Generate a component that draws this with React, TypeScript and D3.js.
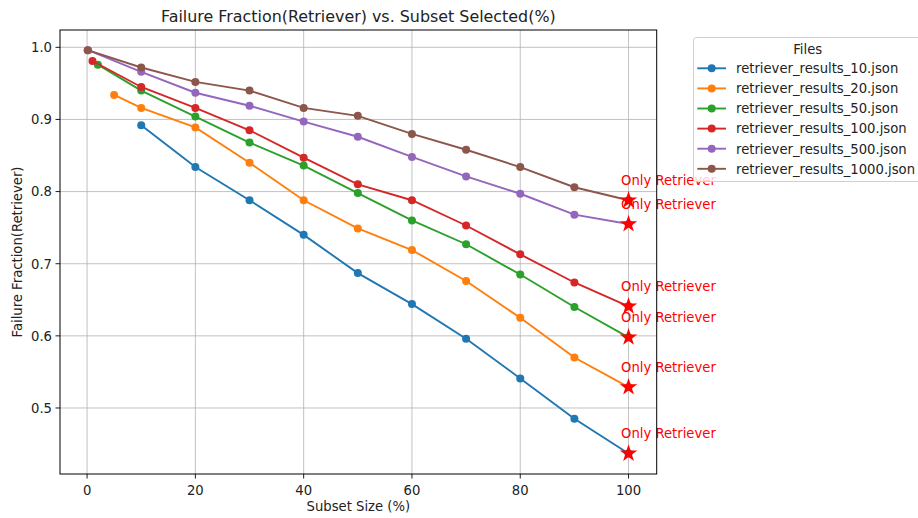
import React from "react";
import * as d3 from "d3";

const seriesNames = [
  "retriever_results_10.json",
  "retriever_results_20.json",
  "retriever_results_50.json",
  "retriever_results_100.json",
  "retriever_results_500.json",
  "retriever_results_1000.json",
];
const colors = ["#1f77b4", "#ff7f0e", "#2ca02c", "#d62728", "#9467bd", "#8c564b"];

const x10 = [10, 20, 30, 40, 50, 60, 70, 80, 90, 100];
const y10 = [0.892, 0.834, 0.788, 0.740, 0.687, 0.644, 0.596, 0.541, 0.485, 0.437];
const x20 = [5, 10, 20, 30, 40, 50, 60, 70, 80, 90, 100];
const y20 = [0.934, 0.916, 0.889, 0.840, 0.788, 0.749, 0.719, 0.676, 0.625, 0.570, 0.529];
const x50 = [2, 10, 20, 30, 40, 50, 60, 70, 80, 90, 100];
const y50 = [0.976, 0.940, 0.904, 0.868, 0.836, 0.798, 0.760, 0.727, 0.685, 0.640, 0.598];
const x100 = [1, 10, 20, 30, 40, 50, 60, 70, 80, 90, 100];
const y100 = [0.981, 0.945, 0.916, 0.885, 0.847, 0.810, 0.788, 0.753, 0.713, 0.674, 0.641];
const x500 = [0.2, 10, 20, 30, 40, 50, 60, 70, 80, 90, 100];
const y500 = [0.996, 0.966, 0.937, 0.919, 0.897, 0.876, 0.848, 0.821, 0.797, 0.768, 0.755];
const x1000 = [0.1, 10, 20, 30, 40, 50, 60, 70, 80, 90, 100];
const y1000 = [0.996, 0.972, 0.952, 0.940, 0.916, 0.905, 0.880, 0.858, 0.834, 0.806, 0.788];

const xTicks = [0, 20, 40, 60, 80, 100];
const yTicks = [0.5, 0.6, 0.7, 0.8, 0.9, 1.0];

const allX = [x10, x20, x50, x100, x500, x1000];
const allY = [y10, y20, y50, y100, y500, y1000];

const W = 918;
const H = 518;
const left = 60;
const right = 656.7;
const top = 30;
const bottom = 474;
const FONT = "DejaVu Sans, sans-serif";
const FS = 13.2;

export default function App() {
  const xs = d3.scaleLinear().domain([-5, 105.2]).range([left, right]);
  const ys = d3.scaleLinear().domain([0.4085, 1.024]).range([bottom, top]);
  const line = d3
    .line<[number, number]>()
    .x((d) => xs(d[0]))
    .y((d) => ys(d[1]));
  const star = d3.symbol().type(d3.symbolStar).size(95)();

  return (
    <svg
      width={W}
      height={H}
      style={{ position: "absolute", left: 0, top: 0, background: "#fff" }}
      fontFamily={FONT}
    >
      <rect x={0} y={0} width={W} height={H} fill="#fff" />
      {/* grid */}
      {xTicks.map((t) => (
        <line key={"gx" + t} x1={xs(t)} x2={xs(t)} y1={top} y2={bottom} stroke="#b0b0b0" strokeWidth={0.9} opacity={0.85} />
      ))}
      {yTicks.map((t) => (
        <line key={"gy" + t} x1={left} x2={right} y1={ys(t)} y2={ys(t)} stroke="#b0b0b0" strokeWidth={0.9} opacity={0.85} />
      ))}
      {/* series */}
      {allX.map((xv, i) => {
        const pts: [number, number][] = xv.map((x, j) => [x, allY[i][j]]);
        return (
          <g key={"s" + i}>
            <path d={line(pts) || ""} fill="none" stroke={colors[i]} strokeWidth={1.9} />
            {pts.map((p, j) => (
              <circle key={j} cx={xs(p[0])} cy={ys(p[1])} r={4} fill={colors[i]} />
            ))}
          </g>
        );
      })}
      {/* stars + annotations */}
      {allX.map((xv, i) => {
        const lx = xv[xv.length - 1];
        const ly = allY[i][allY[i].length - 1];
        return (
          <g key={"a" + i}>
            <path d={star || ""} transform={`translate(${xs(lx)},${ys(ly)})`} fill="red" />
            <text x={xs(lx) - 7.5} y={ys(ly) - 15} fontSize={FS} fill="red">
              Only Retriever
            </text>
          </g>
        );
      })}
      {/* axes spines */}
      <rect x={left} y={top} width={right - left} height={bottom - top} fill="none" stroke="#000" strokeWidth={1} />
      {/* x ticks */}
      {xTicks.map((t) => (
        <g key={"xt" + t}>
          <line x1={xs(t)} x2={xs(t)} y1={bottom} y2={bottom + 4.5} stroke="#000" strokeWidth={0.9} />
          <text x={xs(t)} y={bottom + 21} textAnchor="middle" fontSize={FS} fill="#222">
            {t}
          </text>
        </g>
      ))}
      {/* y ticks */}
      {yTicks.map((t) => (
        <g key={"yt" + t}>
          <line x1={left - 4.5} x2={left} y1={ys(t)} y2={ys(t)} stroke="#000" strokeWidth={0.9} />
          <text x={left - 8} y={ys(t) + 4.8} textAnchor="end" fontSize={FS} fill="#222">
            {t.toFixed(1)}
          </text>
        </g>
      ))}
      {/* labels */}
      <text x={(left + right) / 2} y={511} textAnchor="middle" fontSize={FS} fill="#222">
        Subset Size (%)
      </text>
      <text
        transform={`translate(22,${(top + bottom) / 2}) rotate(-90)`}
        textAnchor="middle"
        fontSize={FS}
        fill="#222"
      >
        Failure Fraction(Retriever)
      </text>
      <text x={(left + right) / 2} y={21.7} textAnchor="middle" fontSize={15.9} fill="#222">
        Failure Fraction(Retriever) vs. Subset Selected(%)
      </text>
      {/* legend */}
      <rect x={693.5} y={37.5} width={228} height={144} rx={3} fill="#fff" fillOpacity={0.8} stroke="#d0d0d0" strokeWidth={1} />
      <text x={807.7} y={53.5} textAnchor="middle" fontSize={FS} fill="#222">
        Files
      </text>
      {seriesNames.map((name, i) => {
        const cy = 68.3 + i * 20.1;
        return (
          <g key={"lg" + i}>
            <line x1={697.3} x2={726} y1={cy} y2={cy} stroke={colors[i]} strokeWidth={1.9} />
            <circle cx={711.7} cy={cy} r={4} fill={colors[i]} />
            <text x={736} y={cy + 4.8} fontSize={FS} fill="#222">
              {name}
            </text>
          </g>
        );
      })}
    </svg>
  );
}
